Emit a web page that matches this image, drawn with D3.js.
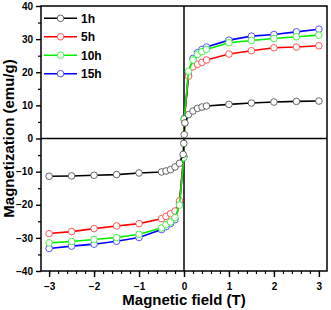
<!DOCTYPE html>
<html lang="en">
<head>
  <meta charset="UTF-8">
  <title>M-H loops</title>
  <script src="https://cdn.jsdelivr.net/npm/d3@7"></script>
  <style>
    body { margin: 0; background: #fff; }
    svg { display: block; font-family: "Liberation Sans", Arial, sans-serif; font-weight: bold; }
  </style>
</head>
<body>
  <div id="chart"></div>
  <script>
    // applied field (T); null = no point at that field for that sample
    const fields = [-3, -2.5, -2, -1.5, -1, -0.5, -0.4, -0.3, -0.2, -0.1, -0.02, -0.005,
      0.005, 0.02, 0.1, 0.2, 0.3, 0.4, 0.5, 1, 1.5, 2, 2.5, 3]
    const m1h = [-11.4, -11.3, -11.1, -10.9, -10.4, -10.1, -9.8, -9.4, -8.6, -7.5, -4.8, -1.5,
      1.2, 4.7, 7.2, 8.3, 9.1, 9.5, 9.8, 10.3, 10.7, 11.0, 11.2, 11.3]
    const m5h = [-28.7, -28.1, -27.2, -26.4, -25.7, -24.2, -23.5, -22.7, -21.9, -18.8, null, -5.5,
      5.5, null, 18.8, 21.6, 22.4, 23.0, 23.7, 25.5, 26.5, 27.4, 27.6, 28.0]
    const m10h = [-31.5, -31.1, -30.5, -29.9, -28.9, -27.0, -26.0, -25.2, -23.9, -20.1, null, -5.8,
      5.8, null, 20.3, 23.7, 25.4, 26.2, 26.9, 28.9, 29.6, 30.2, 30.7, 31.2]
    const m15h = [-33.2, -32.5, -31.9, -31.0, -29.9, -27.5, -26.6, -25.7, -24.5, -19.5, null, -5.5,
      6.0, null, 19.1, 24.2, 25.9, 26.9, 27.6, 29.7, 30.9, 31.4, 32.2, 33.0]

    const names = ["1h", "5h", "10h", "15h"]
    const colors = ["#000000", "#ff0000", "#00ee00", "#0000ff"]
    const circleColors = ["#555555", "#ff4444", "#33ee33", "#4444ff"]
    const values = [m1h, m5h, m10h, m15h]
    const drawOrder = [3, 1, 2, 0]

    const xTicks = [-3, -2, -1, 0, 1, 2, 3]
    const yTicks = [-40, -30, -20, -10, 0, 10, 20, 30, 40]

    const width = 331, height = 310
    const mLeft = 41, mRight = 327, mTop = 6, mBottom = 271

    const svg = d3.select("#chart").append("svg")
      .attr("width", width).attr("height", height)

    const x = d3.scaleLinear().domain([-3.18, 3.18]).range([mLeft, mRight])
    const y = d3.scaleLinear().domain([-40, 40]).range([mBottom, mTop])

    // minor ticks
    const xMinor = d3.range(-3.2, 3.21, 0.2).filter(v => v > -3.18 && v < 3.18)
    svg.append("g")
      .attr("transform", `translate(0,${mBottom})`)
      .call(d3.axisBottom(x).tickValues(xMinor).tickSize(3).tickFormat(""))
      .call(g => g.select(".domain").remove())
      .selectAll("line").attr("stroke-width", 1.2)

    svg.append("g")
      .attr("transform", `translate(${mLeft},0)`)
      .call(d3.axisLeft(y).tickValues(d3.range(-35, 40, 10)).tickSize(3).tickFormat(""))
      .call(g => g.select(".domain").remove())
      .selectAll("line").attr("stroke-width", 1.2)

    // major ticks
    const xAxis = svg.append("g")
      .attr("transform", `translate(0,${mBottom})`)
      .call(d3.axisBottom(x).tickValues(xTicks).tickSize(6).tickPadding(6).tickFormat(d3.format("d")))
    xAxis.select(".domain").remove()
    xAxis.selectAll("line").attr("stroke-width", 1.4)
    xAxis.selectAll("text").attr("font-size", 10).attr("font-weight", "bold").attr("font-family", "Liberation Sans, Arial, sans-serif")

    const yAxis = svg.append("g")
      .attr("transform", `translate(${mLeft},0)`)
      .call(d3.axisLeft(y).tickValues(yTicks).tickSize(5).tickPadding(3).tickFormat(d3.format("d")))
    yAxis.select(".domain").remove()
    yAxis.selectAll("line").attr("stroke-width", 1.4)
    yAxis.selectAll("text").attr("font-size", 10).attr("font-weight", "bold").attr("font-family", "Liberation Sans, Arial, sans-serif")

    // frame and zero lines
    svg.append("rect")
      .attr("x", mLeft).attr("y", mTop)
      .attr("width", mRight - mLeft).attr("height", mBottom - mTop)
      .attr("fill", "none").attr("stroke", "#000").attr("stroke-width", 1.5)
    svg.append("line")
      .attr("x1", x(0)).attr("x2", x(0)).attr("y1", mTop).attr("y2", mBottom)
      .attr("stroke", "#000").attr("stroke-width", 1.5)
    svg.append("line")
      .attr("x1", mLeft).attr("x2", mRight).attr("y1", y(0)).attr("y2", y(0))
      .attr("stroke", "#000").attr("stroke-width", 1.5)

    const line = d3.line().x(d => x(d[0])).y(d => y(d[1]))

    drawOrder.forEach(i => {
      const pts = fields.map((f, j) => [f, values[i][j]]).filter(d => d[1] !== null)
      svg.append("path")
        .datum(pts)
        .attr("d", line)
        .attr("fill", "none")
        .attr("stroke", colors[i])
        .attr("stroke-width", 1.6)
      svg.append("g").selectAll("circle")
        .data(pts)
        .join("circle")
        .attr("cx", d => x(d[0]))
        .attr("cy", d => y(d[1]))
        .attr("r", 3.3)
        .attr("fill", "#fff")
        .attr("stroke", circleColors[i])
        .attr("stroke-width", 0.9)
    })

    // legend
    const legend = svg.append("g")
    const legY = d3.scaleLinear().domain([0, 3]).range([18.3, 73.7])
    names.forEach((n, i) => {
      const ly = legY(i)
      legend.append("line")
        .attr("x1", 44).attr("x2", 77).attr("y1", ly).attr("y2", ly)
        .attr("stroke", colors[i]).attr("stroke-width", 1.6)
      legend.append("circle")
        .attr("cx", 60.5).attr("cy", ly).attr("r", 3.3)
        .attr("fill", "#fff").attr("stroke", circleColors[i]).attr("stroke-width", 0.9)
      legend.append("text")
        .attr("x", 81).attr("y", ly + 4.3)
        .attr("font-size", 12)
        .text(n)
    })

    // axis titles
    svg.append("text")
      .attr("x", x(0)).attr("y", 305)
      .attr("text-anchor", "middle")
      .attr("font-size", 15)
      .text("Magnetic field (T)")

    svg.append("text")
      .attr("transform", `translate(14,${(mTop + mBottom) / 2}) rotate(-90)`)
      .attr("text-anchor", "middle")
      .attr("font-size", 15)
      .text("Magnetization (emu/g)")
  </script>
</body>
</html>
